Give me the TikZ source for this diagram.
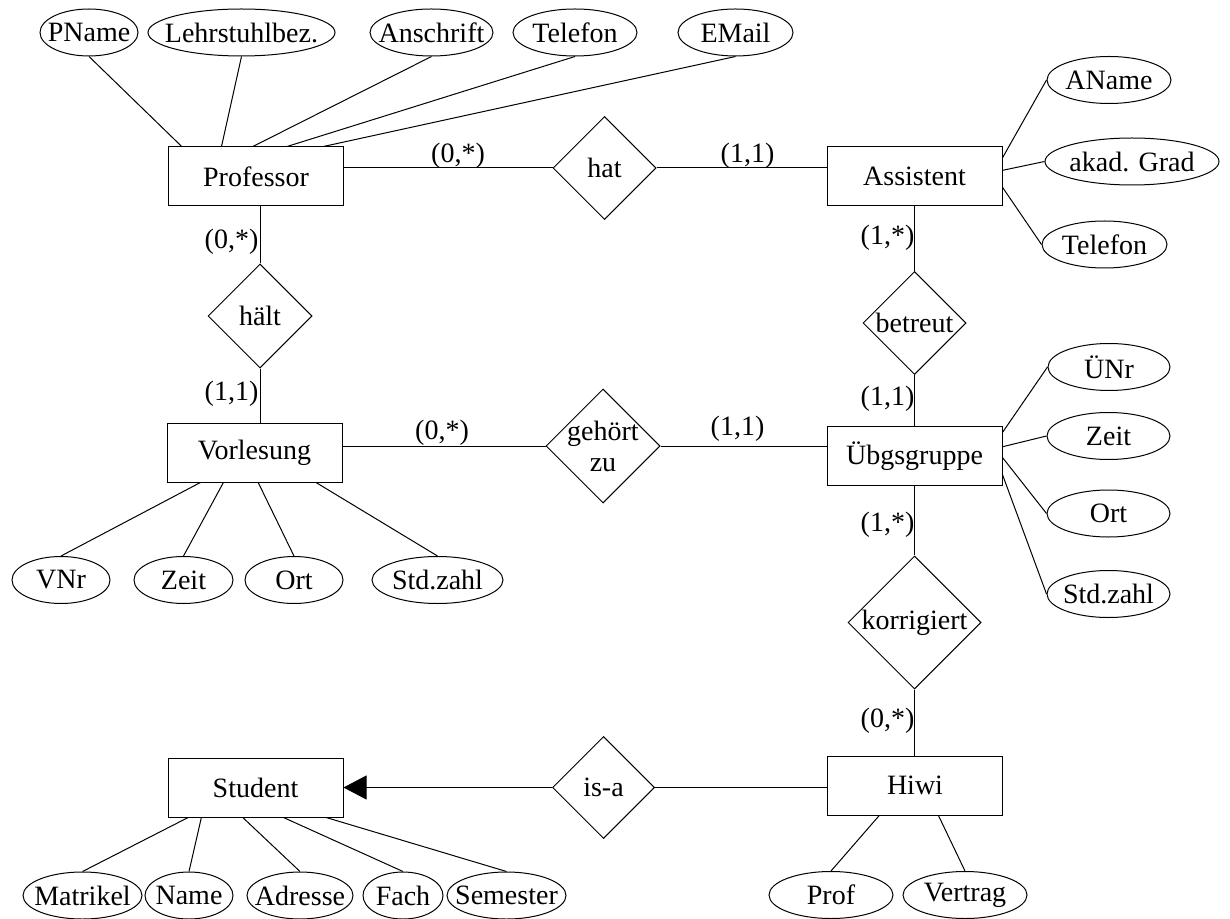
\documentclass[tikz,border=0pt]{standalone}
\usepackage{fontspec}
\setmainfont{Liberation Serif}
\usetikzlibrary{shapes.geometric, arrows.meta}

\begin{document}
\begin{tikzpicture}[
  x=0.5pt, y=-0.5pt,
  every node/.style={font=\fontsize{14}{15.5}\selectfont},
  entity/.style={rectangle, draw, line width=0.5pt, minimum width=87.5pt,
                 minimum height=29.5pt, inner sep=0pt},
  rel/.style={diamond, draw, line width=0.5pt, aspect=1, inner sep=0pt,
              minimum width=#1, minimum height=#1},
  rel/.default=51.5pt,
  attr/.style={ellipse, draw, line width=0.5pt, inner sep=0pt,
               minimum width=#1, minimum height=23.5pt,
               execute at begin node={\hbox to 0pt\bgroup\hss},
               execute at end node={\hss\egroup}},
  card/.style={inner sep=0pt},
  link/.style={draw, line width=0.5pt},
  isarrow/.style={-{Triangle[length=11.5pt, width=12pt]}, draw, line width=0.5pt},
]
\useasboundingbox (0,0) rectangle (1230,919);

% entities
\node[entity] (prof) at (256,176.5)   {Professor};
\node[entity] (assi) at (914.5,176.5) {Assistent};
\node[entity] (vorl) at (254.5,452.5) {Vorlesung};
\node[entity] (uebg) at (914.5,456)   {Übgsgruppe};
\node[entity] (stud) at (255.5,787.5) {Student};
\node[entity] (hiwi) at (915,785.5)   {Hiwi};

% relationships
\node[rel]              (hat)     at (604.5,168) {hat};
\node[rel=52pt]         (haelt)   at (260,316)   {hält};
\node[rel=57pt, align=center, inner sep=-1.8pt] (gehoert) at (603,446) {gehört\\zu};
\node[rel]              (betreut) at (914.5,323) {betreut};
\node[rel=66.5pt]       (korr)    at (914.5,622.5) {korrigiert};
\node[rel=51pt]         (isa)     at (603.5,787.5) {is-a};

% attributes
\node[attr=49pt]   (pname)  at (89,32.5)    {PName};
\node[attr=93.5pt] (lehrst) at (241.5,32.5) {Lehrstuhlbez.};
\node[attr=61.5pt] (anschr) at (431.5,32.5) {Anschrift};
\node[attr=62pt]   (telp)   at (575,32.5)   {Telefon};
\node[attr=57.5pt] (email)  at (735.5,32.5) {EMail};

\node[attr=62pt]   (aname)  at (1109,80)      {AName};
\node[attr=87pt]   (grad)   at (1132,161.5)   {akad. Grad};
\node[attr=62.5pt] (tela)   at (1104.5,244.5) {Telefon};

\node[attr=61pt]   (uenr)   at (1109,367)     {ÜNr};
\node[attr=61.5pt] (zeitu)  at (1108.5,436)   {Zeit};
\node[attr=61.5pt] (ortu)   at (1108.5,513.5) {Ort};
\node[attr=61.5pt] (stdu)   at (1108.5,594)   {Std.zahl};

\node[attr=49pt]   (vnr)    at (61,580)    {VNr};
\node[attr=49.5pt] (zeitv)  at (183.5,580) {Zeit};
\node[attr=49pt]   (ortv)   at (294,580)   {Ort};
\node[attr=65.5pt] (stdv)   at (437.5,580) {Std.zahl};

\node[attr=59.5pt] (matr)   at (82.5,895.5)  {Matrikel};
\node[attr=44pt]   (name)   at (189,895.5)   {Name};
\node[attr=53pt]   (adr)    at (300,895.5)   {Adresse};
\node[attr=40pt]   (fach)   at (403,895.5)   {Fach};
\node[attr=59.5pt] (sem)    at (506.5,895.5) {Semester};

\node[attr=62pt]   (profa)   at (831,895) {Prof};
\node[attr=62pt]   (vertrag) at (965,895) {Vertrag};

% cardinalities
\node[card] (c1)  at (458,156)   {(0,*)};
\node[card] (c2)  at (747.5,156) {(1,1)};
\node[card] (c3)  at (231.5,242) {(0,*)};
\node[card] (c4)  at (231.5,394) {(1,1)};
\node[card] (c5)  at (442,433)   {(0,*)};
\node[card] (c6)  at (737.5,429) {(1,1)};
\node[card] (c7)  at (887.5,237.5) {(1,*)};
\node[card] (c8)  at (887.5,399) {(1,1)};
\node[card] (c9)  at (887.5,525) {(1,*)};
\node[card] (c10) at (887.5,721) {(0,*)};

% relationship lines
\draw[link] (hat) -- (hat -| prof.east);
\draw[link] (hat) -- (hat -| assi.west);
\draw[link] (haelt) -- (haelt |- prof.south);
\draw[link] (haelt) -- (haelt |- vorl.north);
\draw[link] (gehoert) -- (gehoert -| vorl.east);
\draw[link] (gehoert) -- (gehoert -| uebg.west);
\draw[link] (betreut) -- (betreut |- assi.south);
\draw[link] (betreut) -- (betreut |- uebg.north);
\draw[link] (korr) -- (korr |- uebg.south);
\draw[link] (korr) -- (korr |- hiwi.north);
\draw[link] (isa) -- (isa -| hiwi.west);
\draw[isarrow] (isa) -- (isa -| stud.east);

% attribute lines
\draw[link] (prof.158) -- (pname.south);
\draw[link] (prof.139) -- (lehrst.south);
\draw[link] (prof.96)  -- (anschr.south);
\draw[link] (prof.44)  -- (telp.south);
\draw[link] (prof.24)  -- (email.south);

\draw[link] (assi.12)   -- (aname.west);
\draw[link] (assi.4)    -- (grad.west);
\draw[link] (assi.-7.5) -- (tela.west);

\draw[link] (uebg.15)  -- (uenr.west);
\draw[link] (uebg.6)   -- (zeitu.west);
\draw[link] (uebg.-1)  -- (ortu.west);
\draw[link] (uebg.-12) -- (stdu.west);

\draw[link] (vorl.-151.6) -- (vnr.north);
\draw[link] (vorl.-136.9) -- (zeitv.north);
\draw[link] (vorl.-83.2)  -- (ortv.north);
\draw[link] (vorl.-26.8)  -- (stdv.north);

\draw[link] (stud.-156.7) -- (matr.north);
\draw[link] (stud.-151.1) -- (name.north);
\draw[link] (stud.-113)   -- (adr.north);
\draw[link] (stud.-47)    -- (fach.north);
\draw[link] (stud.-23.6)  -- (sem.north);

\draw[link] (hiwi.-140.7) -- (profa.north);
\draw[link] (hiwi.-52)    -- (vertrag.north);

\end{tikzpicture}
\end{document}
